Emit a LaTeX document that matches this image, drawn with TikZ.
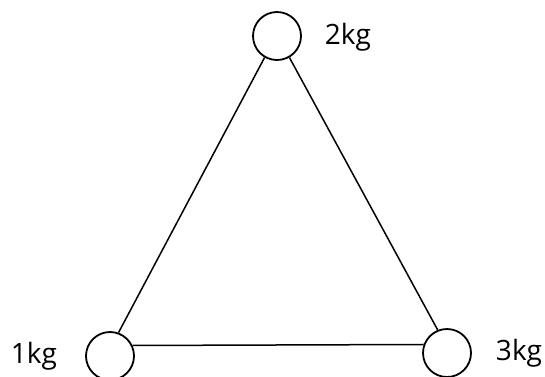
\documentclass[tikz,border=0pt]{standalone}
\usepackage{fontspec}
\setmainfont{Open Sans}
\begin{document}
\begin{tikzpicture}[x=1pt,y=-1pt,
  mass/.style={circle,draw,line width=1.8pt,minimum size=48pt,inner sep=0pt},
  lbl/.style={font=\fontsize{28}{30}\selectfont,inner sep=0pt},
  rod/.style={line width=1.5pt}]
\useasboundingbox (0,0) rectangle (545,376);
\node[mass] (m2) at (277,36) {};
\node[mass] (m1) at (110,356) {};
\node[mass] (m3) at (447,353) {};
\node[lbl] (t2) at (348,37) {2kg};
\node[lbl] (t1) at (34,356) {1kg};
\node[lbl] (t3) at (519,353) {3kg};
\draw[rod] (m2.240) -- (m1.70);
\draw[rod] (m2.300) -- (m3.112);
\draw[rod] (m1.25) -- (m3.160);
\end{tikzpicture}
\end{document}
